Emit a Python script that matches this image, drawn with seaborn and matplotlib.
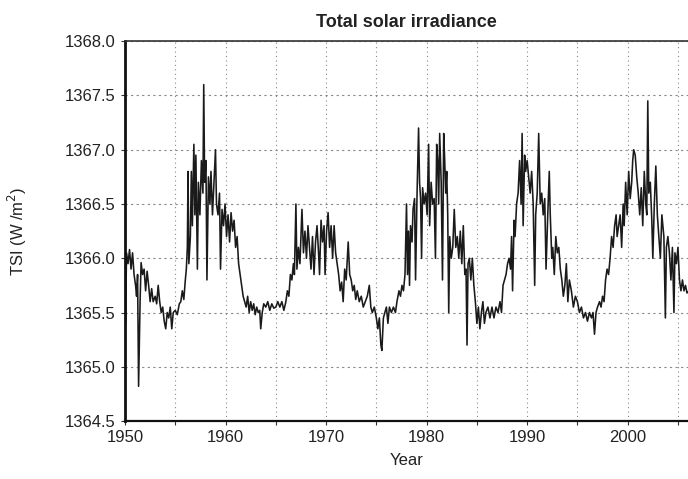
import numpy as np
import pandas as pd
import seaborn as sns
import matplotlib.pyplot as plt
from matplotlib.ticker import MultipleLocator

# ------------------------------------------------------
# Data
# ------------------------------------------------------
years = [
    1950.00, 1950.05, 1950.15, 1950.30, 1950.45, 1950.60, 1950.75, 1950.90,
    1951.05, 1951.15, 1951.25, 1951.35, 1951.50, 1951.60, 1951.75, 1951.90,
    1952.05, 1952.20, 1952.35, 1952.50, 1952.65, 1952.80, 1953.00, 1953.15,
    1953.30, 1953.45, 1953.60, 1953.75, 1953.90, 1954.05, 1954.20, 1954.35,
    1954.50, 1954.65, 1954.80, 1955.00, 1955.20, 1955.40, 1955.55, 1955.70,
    1955.85, 1956.00, 1956.10, 1956.20, 1956.27, 1956.35, 1956.50, 1956.60,
    1956.70, 1956.85, 1956.95, 1957.05, 1957.20, 1957.30, 1957.45, 1957.60,
    1957.75, 1957.83, 1957.92, 1958.05, 1958.15, 1958.30, 1958.45, 1958.55,
    1958.70, 1958.85, 1959.00, 1959.10, 1959.25, 1959.40, 1959.50, 1959.65,
    1959.80, 1959.95, 1960.10, 1960.25, 1960.40, 1960.55, 1960.70, 1960.85,
    1961.00, 1961.15, 1961.30, 1961.45, 1961.60, 1961.75, 1961.90, 1962.05,
    1962.20, 1962.35, 1962.50, 1962.65, 1962.80, 1962.95, 1963.10, 1963.25,
    1963.40, 1963.50, 1963.65, 1963.80, 1964.00, 1964.20, 1964.40, 1964.60,
    1964.80, 1965.00, 1965.20, 1965.40, 1965.60, 1965.80, 1966.00, 1966.15,
    1966.30, 1966.45, 1966.60, 1966.75, 1966.85, 1967.00, 1967.10, 1967.25,
    1967.40, 1967.50, 1967.60, 1967.75, 1967.90, 1968.05, 1968.20, 1968.35,
    1968.50, 1968.65, 1968.80, 1968.95, 1969.10, 1969.25, 1969.35, 1969.50,
    1969.65, 1969.80, 1969.90, 1970.05, 1970.20, 1970.35, 1970.50, 1970.65,
    1970.80, 1970.95, 1971.10, 1971.25, 1971.40, 1971.55, 1971.70, 1971.85,
    1972.00, 1972.20, 1972.35, 1972.50, 1972.65, 1972.80, 1972.95, 1973.10,
    1973.30, 1973.50, 1973.70, 1973.90, 1974.10, 1974.30, 1974.45, 1974.60,
    1974.80, 1975.00, 1975.15, 1975.30, 1975.45, 1975.55, 1975.70, 1975.85,
    1976.00, 1976.15, 1976.30, 1976.50, 1976.70, 1976.90, 1977.05, 1977.25,
    1977.40, 1977.55, 1977.70, 1977.85, 1978.00, 1978.10, 1978.20, 1978.30,
    1978.40, 1978.55, 1978.65, 1978.80, 1978.90, 1979.05, 1979.20, 1979.30,
    1979.40, 1979.50, 1979.60, 1979.75, 1979.90, 1980.05, 1980.20, 1980.30,
    1980.45, 1980.60, 1980.75, 1980.88, 1981.00, 1981.10, 1981.20, 1981.30,
    1981.45, 1981.58, 1981.70, 1981.80, 1981.90, 1982.00, 1982.10, 1982.20,
    1982.30, 1982.45, 1982.60, 1982.75, 1982.90, 1983.05, 1983.20, 1983.35,
    1983.50, 1983.65, 1983.80, 1983.92, 1984.02, 1984.12, 1984.25, 1984.40,
    1984.55, 1984.70, 1984.85, 1985.00, 1985.15, 1985.30, 1985.45, 1985.60,
    1985.75, 1985.90, 1986.10, 1986.30, 1986.50, 1986.70, 1986.90, 1987.10,
    1987.30, 1987.45, 1987.60, 1987.75, 1987.90, 1988.05, 1988.20, 1988.35,
    1988.45, 1988.55, 1988.70, 1988.80, 1988.95, 1989.10, 1989.25, 1989.40,
    1989.50, 1989.60, 1989.75, 1989.85, 1990.00, 1990.15, 1990.30, 1990.45,
    1990.60, 1990.75, 1990.85, 1991.00, 1991.15, 1991.30, 1991.45, 1991.60,
    1991.75, 1991.88, 1992.05, 1992.20, 1992.30, 1992.45, 1992.55, 1992.70,
    1992.85, 1993.00, 1993.15, 1993.30, 1993.45, 1993.60, 1993.75, 1993.90,
    1994.05, 1994.20, 1994.40, 1994.60, 1994.80, 1995.00, 1995.20, 1995.40,
    1995.60, 1995.80, 1996.00, 1996.20, 1996.40, 1996.55, 1996.70, 1996.85,
    1997.00, 1997.20, 1997.35, 1997.50, 1997.65, 1997.80, 1997.95, 1998.10,
    1998.25, 1998.40, 1998.55, 1998.70, 1998.85, 1998.95, 1999.10, 1999.25,
    1999.40, 1999.55, 1999.65, 1999.80, 1999.95, 2000.10, 2000.25, 2000.40,
    2000.50, 2000.60, 2000.75, 2000.90, 2001.05, 2001.20, 2001.35, 2001.50,
    2001.65, 2001.80, 2001.90, 2002.00, 2002.10, 2002.25, 2002.40, 2002.50,
    2002.65, 2002.80, 2002.95, 2003.10, 2003.25, 2003.40, 2003.60, 2003.75,
    2003.85, 2004.00, 2004.15, 2004.30, 2004.45, 2004.60, 2004.70, 2004.85,
    2005.00, 2005.15, 2005.30, 2005.45, 2005.60, 2005.75, 2005.90, 2006.10,
]

tsi = [
    1366.20, 1365.40, 1366.05, 1365.95, 1366.08, 1365.90, 1366.05, 1365.85,
    1365.75, 1365.65, 1365.85, 1364.82, 1365.60, 1365.96, 1365.85, 1365.90,
    1365.70, 1365.88, 1365.75, 1365.60, 1365.72, 1365.60, 1365.65, 1365.58,
    1365.75, 1365.60, 1365.50, 1365.55, 1365.42, 1365.35, 1365.50, 1365.45,
    1365.55, 1365.35, 1365.50, 1365.52, 1365.48, 1365.58, 1365.60, 1365.70,
    1365.62, 1365.80, 1365.90, 1366.10, 1366.80, 1365.95, 1366.20, 1366.80,
    1366.30, 1367.05, 1366.40, 1366.95, 1365.90, 1366.70, 1366.40, 1366.90,
    1366.60, 1367.60, 1366.70, 1366.90, 1365.80, 1366.75, 1366.50, 1366.80,
    1366.40, 1366.70, 1367.00, 1366.50, 1366.40, 1366.60, 1365.90, 1366.45,
    1366.30, 1366.50, 1366.20, 1366.40, 1366.15, 1366.42, 1366.25, 1366.35,
    1366.10, 1366.20, 1365.95, 1365.85, 1365.75, 1365.65, 1365.60, 1365.55,
    1365.65, 1365.50, 1365.60, 1365.52, 1365.58, 1365.48, 1365.55, 1365.50,
    1365.52, 1365.35, 1365.50, 1365.58, 1365.55, 1365.60, 1365.52, 1365.58,
    1365.54, 1365.55, 1365.60, 1365.55, 1365.60, 1365.52, 1365.60, 1365.70,
    1365.65, 1365.85, 1365.80, 1365.95, 1365.85, 1366.50, 1365.90, 1366.10,
    1365.95, 1366.20, 1366.45, 1366.05, 1366.25, 1366.00, 1366.30, 1366.10,
    1365.90, 1366.20, 1365.85, 1366.15, 1366.30, 1366.05, 1365.85, 1366.35,
    1366.15, 1366.30, 1365.85, 1366.25, 1366.42, 1366.10, 1366.30, 1366.00,
    1366.30, 1366.05, 1365.95, 1365.85, 1365.70, 1365.78, 1365.60, 1365.90,
    1365.80, 1366.15, 1365.85, 1365.80, 1365.70, 1365.75, 1365.62, 1365.70,
    1365.60, 1365.65, 1365.55, 1365.60, 1365.65, 1365.75, 1365.55, 1365.50,
    1365.55, 1365.45, 1365.35, 1365.45, 1365.20, 1365.15, 1365.45, 1365.50,
    1365.55, 1365.40, 1365.55, 1365.50, 1365.55, 1365.50, 1365.60, 1365.70,
    1365.65, 1365.75, 1365.70, 1365.85, 1366.50, 1365.85, 1366.25, 1365.75,
    1366.30, 1366.15, 1366.45, 1366.55, 1365.80, 1366.60, 1367.20, 1366.70,
    1366.55, 1366.00, 1366.65, 1366.50, 1366.60, 1366.40, 1367.05, 1366.30,
    1366.70, 1366.50, 1366.55, 1366.00, 1367.05, 1366.90, 1366.50, 1367.15,
    1366.70, 1365.80, 1367.15, 1366.90, 1366.60, 1366.80, 1366.40, 1365.50,
    1366.20, 1366.00, 1366.10, 1366.45, 1366.10, 1366.20, 1366.00, 1366.25,
    1365.95, 1366.30, 1365.85, 1365.90, 1365.20, 1365.95, 1366.00, 1365.80,
    1366.00, 1365.75, 1365.60, 1365.40, 1365.55, 1365.35, 1365.50, 1365.60,
    1365.40, 1365.50, 1365.55, 1365.45, 1365.55, 1365.45, 1365.55, 1365.50,
    1365.60, 1365.50, 1365.75, 1365.80, 1365.85, 1365.95, 1366.00, 1365.90,
    1366.20, 1365.70, 1366.35, 1366.20, 1366.50, 1366.60, 1366.90, 1366.50,
    1367.15, 1366.30, 1366.95, 1366.80, 1366.90, 1366.75, 1366.60, 1366.80,
    1366.50, 1365.75, 1366.40, 1366.60, 1367.15, 1366.50, 1366.60, 1366.40,
    1366.55, 1365.90, 1366.40, 1366.80, 1366.40, 1366.00, 1366.10, 1365.85,
    1366.20, 1366.05, 1366.10, 1365.90, 1365.80, 1365.65, 1365.75, 1365.95,
    1365.60, 1365.80, 1365.70, 1365.55, 1365.65, 1365.60, 1365.50, 1365.55,
    1365.45, 1365.50, 1365.42, 1365.50, 1365.45, 1365.50, 1365.30, 1365.50,
    1365.55, 1365.60, 1365.55, 1365.65, 1365.60, 1365.80, 1365.90, 1365.85,
    1366.00, 1366.20, 1366.10, 1366.30, 1366.40, 1366.20, 1366.30, 1366.40,
    1366.10, 1366.50, 1366.30, 1366.70, 1366.40, 1366.80, 1366.55, 1366.70,
    1366.90, 1367.00, 1366.95, 1366.75, 1366.60, 1366.40, 1366.65, 1366.30,
    1366.80, 1366.50, 1366.40, 1367.45, 1366.60, 1366.70, 1366.35, 1366.00,
    1366.50, 1366.85, 1366.40, 1366.20, 1366.00, 1366.40, 1366.20, 1365.45,
    1366.10, 1366.20, 1366.05, 1365.80, 1366.10, 1365.50, 1366.05, 1365.95,
    1366.10, 1365.80, 1365.70, 1365.80, 1365.70, 1365.75, 1365.68, 1365.70,
]

df = pd.DataFrame({"year": years, "tsi": tsi})

# ------------------------------------------------------
# Plot
# ------------------------------------------------------
sns.set_style("white")
plt.rcParams['font.family'] = ['Liberation Sans', 'DejaVu Sans']

fig = plt.figure(figsize=(6.88, 4.79), dpi=100)
ax = fig.add_axes([0.1817, 0.121, 0.8183, 0.793])

sns.lineplot(data=df, x="year", y="tsi", ax=ax, color="#1a1a1a",
             linewidth=1.15, estimator=None, sort=False)

ax.set_xlim(1950, 2006.0)
ax.set_ylim(1364.5, 1368.0)
ax.xaxis.set_major_locator(MultipleLocator(10))
ax.xaxis.set_minor_locator(MultipleLocator(5))
ax.yaxis.set_major_locator(MultipleLocator(0.5))
ax.yaxis.set_major_formatter(plt.FormatStrFormatter('%.1f'))

ax.grid(which="both", axis="x", color="#888888", linestyle=(0, (1, 3)), linewidth=0.8)
ax.grid(which="major", axis="y", color="#888888", linestyle=(0, (2, 3)), linewidth=0.8)

ax.tick_params(which="both", direction="out", length=3, width=0.8, colors="#333333",
               labelsize=12, labelcolor="#222222", bottom=True, left=True)
ax.tick_params(which="minor", length=3)

ax.spines['left'].set_linewidth(2.0)
ax.spines['bottom'].set_linewidth(1.6)
ax.spines['top'].set_linewidth(1.2)
ax.spines['left'].set_color("#111111")
ax.spines['bottom'].set_color("#111111")
ax.spines['top'].set_color("#333333")
ax.spines['right'].set_visible(False)

ax.set_title("Total solar irradiance", fontsize=13, fontweight="bold", color="#222222", pad=10)
ax.set_xlabel("Year", fontsize=12, color="#222222", labelpad=6)
ax.set_ylabel("TSI (W /m$^2$)", fontsize=12, color="#222222", labelpad=26)

plt.savefig("out.png", dpi=100)
